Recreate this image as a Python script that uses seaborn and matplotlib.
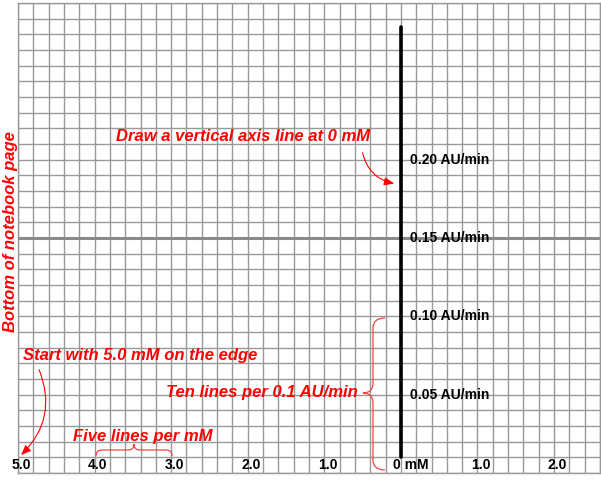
import numpy as np
import seaborn as sns
import matplotlib.pyplot as plt
from matplotlib.path import Path
from matplotlib.patches import PathPatch
from matplotlib.transforms import Affine2D

# Graph paper ranges (mM on x, AU/min on y)
x_limits = [-5.0, 2.6]
y_limits = [0.0, 0.30]
x_grid_step = 0.2     # five lines per mM
y_grid_step = 0.01    # ten lines per 0.1 AU/min

x_tick_values = [-5, -4, -3, -2, -1, 0, 1, 2]
x_tick_labels = ["5.0", "4.0", "3.0", "2.0", "1.0", "0 mM", "1.0", "2.0"]
y_tick_values = [0.05, 0.10, 0.15, 0.20]
y_tick_labels = ["0.05 AU/min", "0.10 AU/min", "0.15 AU/min", "0.20 AU/min"]

# notebook bottom edge and the vertical axis drawn at 0 mM
edge_line_y = [0.15]
axis_line_x = [0, 0]
axis_line_y = [0.01, 0.285]

sns.set_theme(style="white")
plt.rcParams['font.family'] = ['Liberation Sans', 'DejaVu Sans']

fig = plt.figure(figsize=(6.01, 4.8), dpi=100)
ax = fig.add_axes([18 / 601, 7 / 480, 582 / 601, 470 / 480])
ax.set_xlim(x_limits)
ax.set_ylim(y_limits)

# grid lines
ax.set_xticks(np.arange(x_limits[0], x_limits[1] + 1e-9, x_grid_step))
ax.set_yticks(np.arange(y_limits[0], y_limits[1] + 1e-9, y_grid_step))
ax.grid(True, color="#999999", lw=1.0)
ax.tick_params(length=0, labelbottom=False, labelleft=False)
for s in ax.spines.values():
    s.set_color("#999999")
    s.set_linewidth(1.0)

for yv in edge_line_y:
    ax.axhline(yv, color="#8a8a8a", lw=2.2, zorder=3)

sns.lineplot(x=axis_line_x, y=axis_line_y, orient="y", sort=False,
             estimator=None, color="black", lw=2.6, ax=ax, zorder=4)

# tick labels written on the paper
lab_kw = dict(fontsize=10, fontweight="bold", color="black", zorder=5)
for v, lab in zip(x_tick_values, x_tick_labels):
    if lab.endswith("mM"):
        ax.text(v - 0.1, 0.0051, lab, ha="left", va="center", **lab_kw)
    else:
        ax.text(v + 0.04, 0.0051, lab, ha="center", va="center",
                clip_on=False, **lab_kw)
for v, lab in zip(y_tick_values, y_tick_labels):
    ax.text(0.115, v, lab, ha="left", va="center", **lab_kw)

# red notes
red = "#ff0000"
note = dict(color=red, fontsize=12, fontweight="bold", style="italic", zorder=6)
ax.text(-0.405, 0.2145, "Draw a vertical axis line at 0 mM", ha="right", va="center", **note)
ax.text(-4.935, 0.0747, "Start with 5.0 mM on the edge", ha="left", va="center", **note)
ax.text(-0.56, 0.0511, "Ten lines per 0.1 AU/min", ha="right", va="center", **note)
ax.text(-3.37, 0.0236, "Five lines per mM", ha="center", va="center", **note)
ax.text(-5.10, 0.1538, "Bottom of notebook page", ha="center", va="center",
        rotation=90, clip_on=False, **note)

# pixel coordinates (y downwards) for braces and arrows
px = Affine2D().scale(1 / 601, -1 / 480).translate(0, 1) + fig.transFigure

M, C, L = Path.MOVETO, Path.CURVE3, Path.LINETO
vbrace = Path([(385, 318), (373, 318), (373, 328), (373, 383), (373, 393), (363, 393),
               (373, 393), (373, 403), (373, 460), (373, 470), (385, 470)],
              [M, C, C, L, C, C, C, C, L, C, C])
hbrace = Path([(96, 456), (96, 450), (102, 450), (128, 450), (134, 450), (134, 444),
               (134, 450), (140, 450), (166, 450), (172, 450), (172, 456)],
              [M, C, C, L, C, C, C, C, L, C, C])
for p in (vbrace, hbrace):
    ax.add_patch(PathPatch(p, transform=px, fill=False, edgecolor="#ff4040",
                           lw=0.9, clip_on=False, zorder=6))

arrow = dict(arrowstyle="-|>,head_length=0.5,head_width=0.2", color=red, lw=0.8)
ax.annotate("", xy=(397, 184), xytext=(362, 150), xycoords=px, textcoords=px,
            arrowprops=dict(connectionstyle="arc3,rad=0.35", **arrow))
ax.annotate("", xy=(19, 457), xytext=(38, 367), xycoords=px, textcoords=px,
            arrowprops=dict(connectionstyle="arc3,rad=-0.35", **arrow))

fig.savefig("out.png", dpi=100)
